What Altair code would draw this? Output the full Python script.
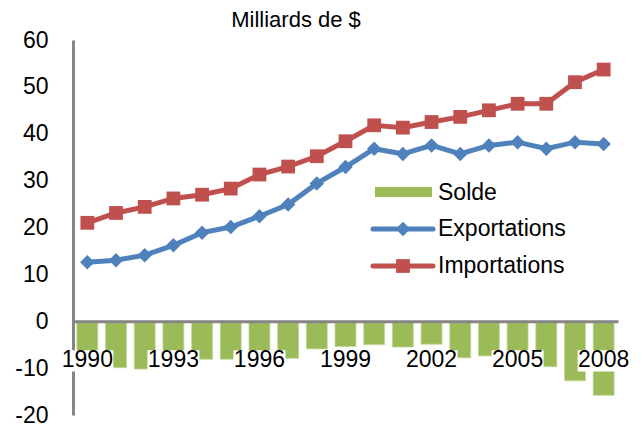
import altair as alt
import pandas as pd

# ---- data ----
years = list(range(1990, 2009))
exportations = [12.6, 13.0, 14.1, 16.2, 18.9, 20.1, 22.4, 24.9, 29.4, 32.9,
                36.8, 35.7, 37.5, 35.7, 37.5, 38.2, 36.8, 38.2, 37.8]
importations = [21.0, 23.1, 24.4, 26.2, 27.0, 28.3, 31.3, 33.0, 35.2, 38.4,
                41.8, 41.3, 42.5, 43.6, 45.0, 46.4, 46.4, 51.0, 53.7]
solde = [-8.4, -9.9, -10.2, -10.0, -8.1, -8.1, -8.9, -7.9, -5.9, -5.4,
         -5.0, -5.5, -4.9, -7.8, -7.4, -8.2, -9.7, -12.7, -15.8]
tick_years = [1990, 1993, 1996, 1999, 2002, 2005, 2008]
y_ticks = [-20, -10, 0, 10, 20, 30, 40, 50, 60]
series = ["Solde", "Exportations", "Importations"]
title_text = ["Milliards de $"]

# ---- styles ----
GREEN, BLUE, RED = "#9BBB59", "#4F81BD", "#C0504D"
FONT = "Liberation Sans"
FS = 23
W, H = 545, 375

df = pd.DataFrame({"year": years, "Exportations": exportations,
                   "Importations": importations, "Solde": solde})
mask_df = pd.DataFrame({"year": tick_years})
legend_df = pd.DataFrame({"series": series})
title_df = pd.DataFrame({"t": title_text})

yscale = alt.Scale(domain=[-20, 60], nice=False, zero=False)
xscale = alt.Scale(domain=years, paddingInner=0.27, paddingOuter=0.135)

x_enc = alt.X("year:O", scale=xscale, sort=years, title=None,
              axis=alt.Axis(values=tick_years, labelAngle=0, ticks=False,
                            labelFont=FONT, labelFontSize=FS, labelColor="black",
                            labelPadding=27, domainColor="#868686", domainWidth=3,
                            offset=-H * 20 / 80, zindex=1, grid=False))
y_axis = alt.Axis(values=y_ticks, ticks=False, grid=False, labelFont=FONT,
                  labelFontSize=FS, labelColor="black", labelPadding=25,
                  labelExpr="'' + datum.value",
                  domainColor="#868686", domainWidth=3, title=None)

base = alt.Chart(df)

bars = base.mark_bar(color=GREEN, stroke="#C4D79B", strokeWidth=0.8).encode(
    x=x_enc, y=alt.Y("Solde:Q", scale=yscale, axis=y_axis))

# white boxes behind the year labels, as in the reference
mask = alt.Chart(mask_df).mark_bar(color="white", width=52).encode(
    x=alt.X("year:O", scale=xscale, sort=years),
    y=alt.datum(-6.2), y2=alt.datum(-10.7))

xe = alt.X("year:O", scale=xscale, sort=years)
exp_line = base.mark_line(color=BLUE, strokeWidth=5).encode(
    x=xe, y=alt.Y("Exportations:Q", scale=yscale))
exp_pts = base.mark_point(shape="diamond", filled=True, size=210, color=BLUE,
                          opacity=1).encode(x=xe, y=alt.Y("Exportations:Q", scale=yscale))
imp_line = base.mark_line(color=RED, strokeWidth=5).encode(
    x=xe, y=alt.Y("Importations:Q", scale=yscale))
imp_pts = base.mark_point(shape="square", filled=True, size=190, color=RED,
                          opacity=1).encode(x=xe, y=alt.Y("Importations:Q", scale=yscale))

# ---- title as text above the plot ----
title = alt.Chart(title_df).mark_text(
    align="center", baseline="alphabetic", font=FONT, fontSize=22, color="black").encode(
    text="t:N", x=alt.value(223), y=alt.value(-13))

# ---- manual legend inside the plot ----
leg = alt.Chart(legend_df)
rows_y = {"Solde": 153, "Exportations": 189, "Importations": 226}
leg_layers = []
leg_layers.append(leg.transform_filter(alt.datum.series == "Solde").mark_rect(color=GREEN).encode(
    x=alt.value(302), x2=alt.value(359), y=alt.value(147), y2=alt.value(157)))
leg_layers.append(leg.transform_filter(alt.datum.series == "Exportations").mark_rule(
    color=BLUE, strokeWidth=5, strokeCap="round").encode(
    x=alt.value(300), x2=alt.value(360), y=alt.value(189)))
leg_layers.append(leg.transform_filter(alt.datum.series == "Exportations").mark_point(
    shape="diamond", filled=True, size=210, color=BLUE, opacity=1).encode(
    x=alt.value(330), y=alt.value(189)))
leg_layers.append(leg.transform_filter(alt.datum.series == "Importations").mark_rule(
    color=RED, strokeWidth=5, strokeCap="round").encode(
    x=alt.value(300), x2=alt.value(360), y=alt.value(226)))
leg_layers.append(leg.transform_filter(alt.datum.series == "Importations").mark_point(
    shape="square", filled=True, size=190, color=RED, opacity=1).encode(
    x=alt.value(330), y=alt.value(226)))
for s in series:
    leg_layers.append(leg.transform_filter(alt.datum.series == s).mark_text(
        align="left", baseline="middle", font=FONT, fontSize=FS, color="black").encode(
        text="series:N", x=alt.value(365), y=alt.value(rows_y[s])))

chart = alt.layer(bars, mask, exp_line, exp_pts, imp_line, imp_pts, title, *leg_layers).properties(
    width=W, height=H,
    autosize=alt.AutoSizeParams(type="none"),
    padding={"left": 65, "top": 32, "right": 16, "bottom": 12},
).configure_view(stroke=None)

chart.save("out.html", embed_options={"renderer": "svg", "actions": False})
